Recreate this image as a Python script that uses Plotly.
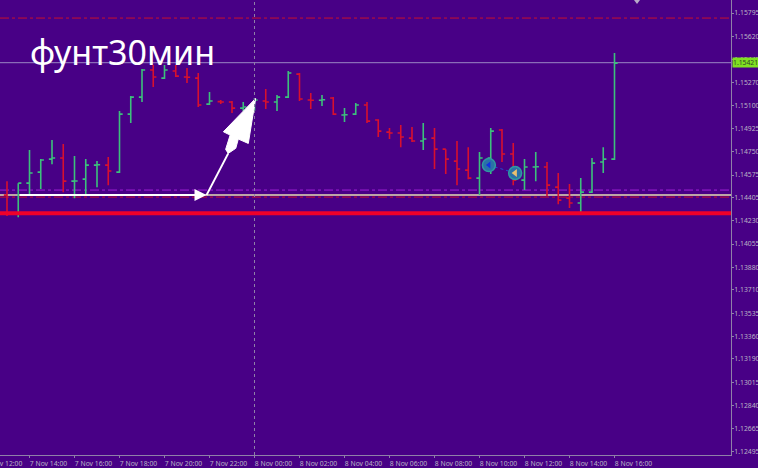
import plotly.graph_objects as go
import pandas as pd

BG = "#480086"
GRID = "#8f80a8"
TXT = "#b9b3c4"
FONT = "Noto Sans"

start = pd.Timestamp("2024-11-07 13:00")
times = [start + pd.Timedelta(minutes=30 * i) for i in range(55)]

opens = [1.14424,1.14288,1.14514,1.14597,1.14695,1.14703,1.14529,1.14544,1.14650,1.14650,1.14597,
         1.15034,1.15162,1.15366,1.15305,1.15358,1.15313,1.15305,1.15109,1.15128,1.15125,1.15079,
         1.15079,1.15132,1.15125,1.15162,1.15335,1.15140,1.15138,1.15155,1.15027,1.15034,1.15102,
         1.14989,1.14898,1.14891,1.14853,1.14831,1.14853,1.14770,1.14680,1.14612,1.14552,1.14703,
         1.14914,1.14733,1.14537,1.14635,1.14635,1.14484,1.14401,1.14364,1.14446,1.14673,1.14695]
highs = [1.14529,1.14514,1.14763,1.14695,1.14838,1.14808,1.14718,1.14695,1.14680,1.14710,1.15057,
         1.15170,1.15373,1.15403,1.15403,1.15403,1.15381,1.15343,1.15200,1.15140,1.15132,1.15125,
         1.15155,1.15222,1.15177,1.15358,1.15343,1.15192,1.15177,1.15162,1.15079,1.15117,1.15125,
         1.14996,1.14929,1.14951,1.14936,1.14966,1.14929,1.14770,1.14831,1.14785,1.14748,1.14929,
         1.14921,1.14816,1.14695,1.14748,1.14673,1.14590,1.14507,1.14552,1.14703,1.14785,1.15494]
lows = [1.14266,1.14258,1.14424,1.14469,1.14657,1.14446,1.14401,1.14431,1.14484,1.14499,1.14590,
        1.14966,1.15125,1.15238,1.15298,1.15313,1.15268,1.15087,1.15102,1.15109,1.15042,1.15057,
        1.15057,1.15072,1.15057,1.15155,1.15132,1.15072,1.15094,1.15027,1.14974,1.15027,1.14966,
        1.14861,1.14846,1.14785,1.14823,1.14763,1.14620,1.14582,1.14499,1.14544,1.14424,1.14582,
        1.14673,1.14499,1.14462,1.14529,1.14416,1.14356,1.14326,1.14288,1.14439,1.14590,1.14688]
closes = [1.14288,1.14514,1.14590,1.14688,1.14703,1.14529,1.14530,1.14650,1.14652,1.14605,1.15034,
          1.15162,1.15366,1.15313,1.15366,1.15320,1.15311,1.15102,1.15132,1.15125,1.15079,1.15087,
          1.15140,1.15125,1.15162,1.15343,1.15147,1.15138,1.15142,1.15034,1.15029,1.15102,1.14981,
          1.14906,1.14891,1.14861,1.14831,1.14846,1.14770,1.14695,1.14620,1.14552,1.14703,1.14906,
          1.14733,1.14537,1.14635,1.14637,1.14499,1.14386,1.14364,1.14446,1.14665,1.14695,1.15418]

price_ticks = [1.15795,1.15620,1.15445,1.15270,1.15100,1.14925,1.14750,1.14575,1.14405,1.14230,
               1.14055,1.13880,1.13710,1.13535,1.13360,1.13190,1.13015,1.12840,1.12665,1.12495]
time_ticks = pd.date_range("2024-11-07 14:00", "2024-11-08 16:00", freq="2h")
time_labels = ["7 Nov 14:00","7 Nov 16:00","7 Nov 18:00","7 Nov 20:00","7 Nov 22:00","8 Nov 00:00",
               "8 Nov 02:00","8 Nov 04:00","8 Nov 06:00","8 Nov 08:00","8 Nov 10:00","8 Nov 12:00",
               "8 Nov 14:00","8 Nov 16:00"]

level_bid = 1.15421
level_top = 1.15757
level_purple = 1.14462
level_tan = 1.14424
level_red = 1.14409
level_support = 1.14288
trade_t = ["2024-11-08 10:25", "2024-11-08 11:35"]
trade_p = [1.14650, 1.14590]
alert_t = ["2024-11-08 17:00"]
alert_p = [1.15890]

shaft_t = ["2024-11-07 21:52", "2024-11-07 22:50"]
shaft_p = [1.14424, 1.14738]
head_t = ["2024-11-08 00:03", "2024-11-07 23:43:30", "2024-11-07 23:16:48", "2024-11-07 23:10",
          "2024-11-07 22:50", "2024-11-07 22:43", "2024-11-07 22:55", "2024-11-07 22:37", "2024-11-08 00:03"]
head_p = [1.15152, 1.14813, 1.14846, 1.14776, 1.14738, 1.14768, 1.14876, 1.14901, 1.15152]

X0, X1 = "2024-11-07 12:41:20", "2024-11-08 21:10:40"

fig = go.Figure()
fig.add_trace(go.Ohlc(x=times, open=opens, high=highs, low=lows, close=closes, tickwidth=0.28,
                      increasing=dict(line=dict(color="#3cc07c", width=1.6)),
                      decreasing=dict(line=dict(color="#d8102e", width=1.6)),
                      showlegend=False, hoverinfo="skip"))

def hline(y, color, width, dash="solid"):
    fig.add_shape(type="line", xref="paper", yref="y", x0=0, x1=1, y0=y, y1=y,
                  line=dict(color=color, width=width, dash=dash), layer="below")

hline(level_bid, "#9a86c4", 1)
hline(level_top, "#c8102e", 1, "dashdot")
hline(level_purple, "#a020d8", 1, "dashdot")
hline(level_red, "#c8102e", 1, "dashdot")
hline(level_tan, "#e4dcb0", 1.5)

fig.add_shape(type="line", xref="x", yref="paper", x0="2024-11-08 00:00", x1="2024-11-08 00:00",
              y0=0, y1=1, line=dict(color=GRID, width=1, dash="dot"), layer="above")
fig.add_shape(type="line", xref="paper", yref="y", x0=0, x1=1, y0=level_support, y1=level_support,
              line=dict(color="#f0002a", width=4), layer="above")

fig.add_trace(go.Scatter(x=trade_t, y=trade_p, mode="lines",
                         line=dict(color="#2050d0", width=1, dash="dot"),
                         showlegend=False, hoverinfo="skip"))
fig.add_trace(go.Scatter(x=trade_t, y=trade_p, mode="markers",
                         marker=dict(size=13, color="#2a70a8", line=dict(color="#2f9aa0", width=1.5)),
                         showlegend=False, hoverinfo="skip"))
fig.add_trace(go.Scatter(x=trade_t[:1], y=trade_p[:1], mode="markers",
                         marker=dict(size=6, symbol="triangle-left", color="#1030e0"),
                         showlegend=False, hoverinfo="skip"))
fig.add_trace(go.Scatter(x=trade_t[1:], y=trade_p[1:], mode="markers",
                         marker=dict(size=7, symbol="triangle-left", color="#e8c070"),
                         showlegend=False, hoverinfo="skip"))
fig.add_trace(go.Scatter(x=alert_t, y=alert_p, mode="markers",
                         marker=dict(size=7, symbol="triangle-down", color="#b8aac8"),
                         showlegend=False, hoverinfo="skip"))
fig.add_trace(go.Scatter(x=shaft_t, y=shaft_p, mode="lines", line=dict(color="white", width=2),
                         showlegend=False, hoverinfo="skip"))
fig.add_trace(go.Scatter(x=head_t, y=head_p, mode="lines", fill="toself", fillcolor="white",
                         line=dict(color="white", width=1, shape="linear"),
                         showlegend=False, hoverinfo="skip"))

annotations = [
    dict(text="фунт30мин", xref="paper", yref="paper", x=28/731, y=1-52/455, xanchor="left", yanchor="middle",
         showarrow=False, font=dict(family=FONT, size=34, color="white")),
    dict(text="7 Nov 12:00", xref="paper", yref="paper", x=-17/731, y=-0.0046, xanchor="left", yanchor="top",
         showarrow=False, font=dict(family=FONT, size=6.8, color=TXT)),
    dict(text="", x="2024-11-07 21:52", y=level_tan, ax="2024-11-07 13:30", ay=level_tan, xref="x", yref="y",
         axref="x", ayref="y", showarrow=True, arrowhead=2, arrowsize=1.2, arrowwidth=2, arrowcolor="white"),
    dict(text="1.15421", xref="paper", yref="y", x=732/731, y=level_bid, xanchor="left", yanchor="middle",
         showarrow=False, bgcolor="#7fe020", borderpad=0, font=dict(family=FONT, size=6.8, color="#30402a")),
]

fig.update_layout(
    width=758, height=468, margin=dict(l=0, r=27, t=0, b=13),
    paper_bgcolor=BG, plot_bgcolor=BG, showlegend=False, annotations=annotations,
    font=dict(family=FONT, size=6.8, color=TXT),
    xaxis=dict(type="date", range=[X0, X1], rangeslider=dict(visible=False), showgrid=False, zeroline=False,
               tickmode="array", tickvals=list(time_ticks), ticktext=time_labels, ticks="outside", ticklen=2,
               tickangle=0, tickcolor=GRID, showline=True, linecolor=GRID, linewidth=1, automargin=False,
               ticklabelshift=19, ticklabelstandoff=0),
    yaxis=dict(side="right", range=[1.12467, 1.15893], showgrid=False, zeroline=False, automargin=False,
               tickmode="array", tickvals=price_ticks, ticktext=[f"{v:.5f}" for v in price_ticks],
               ticks="outside", ticklen=2, tickcolor=GRID, showline=True, linecolor=GRID, linewidth=1,
               ticklabelstandoff=-1),
)
fig.write_html("out.html", config=dict(displayModeBar=False),
               post_script="document.body.style.margin='0';document.body.style.background='#480086';")
